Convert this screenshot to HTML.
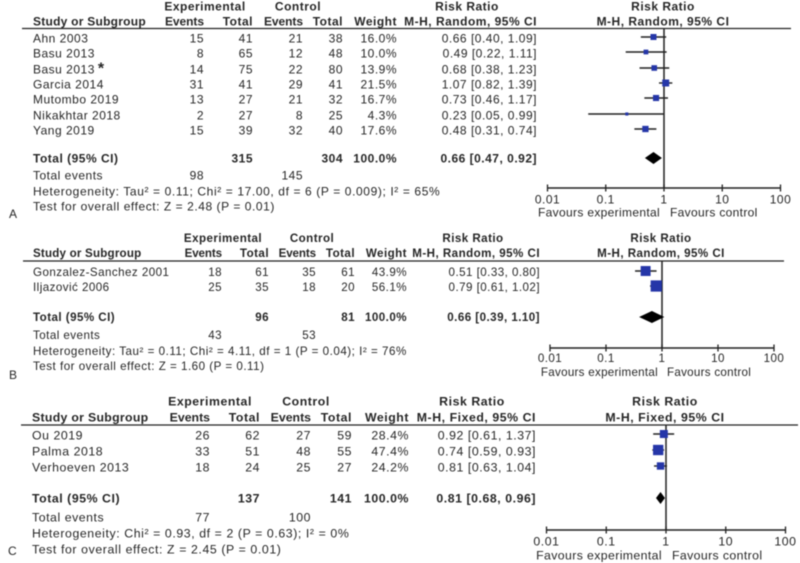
<!DOCTYPE html>
<html>
<head>
<meta charset="utf-8">
<style>
html,body{margin:0;padding:0;background:#fff;width:800px;height:563px;overflow:hidden}
svg{display:block;filter:blur(0.45px)}
text{font-family:"Liberation Sans",sans-serif;fill:#262626}
</style>
</head>
<body>
<svg id="chart" width="800" height="563" viewBox="0 0 800 563" xmlns="http://www.w3.org/2000/svg"></svg>
<script>
// Panel A data
const aStudies = ['Ahn 2003','Basu 2013','Basu 2013','Garcia 2014','Mutombo 2019','Nikakhtar 2018','Yang 2019'];
const aExpEvents = [15,8,14,31,13,2,15];
const aExpTotals = [41,65,75,41,27,27,39];
const aCtlEvents = [21,12,22,29,21,8,32];
const aCtlTotals = [38,48,80,41,32,25,40];
const aWeights = [16.0,10.0,13.9,21.5,16.7,4.3,17.6];
const aRatios = [0.66,0.49,0.68,1.07,0.73,0.23,0.48];
const aLows = [0.40,0.22,0.38,0.82,0.46,0.05,0.31];
const aHighs = [1.09,1.11,1.23,1.39,1.17,0.99,0.74];
const aSummary = [315,304,100.0,0.66,0.47,0.92];
const aEventTotals = [98,145];
// Panel B data
const bStudies = ['Gonzalez-Sanchez 2001','Iljazović 2006'];
const bExpEvents = [18,25];
const bExpTotals = [61,35];
const bCtlEvents = [35,18];
const bCtlTotals = [61,20];
const bWeights = [43.9,56.1];
const bRatios = [0.51,0.79];
const bLows = [0.33,0.61];
const bHighs = [0.80,1.02];
const bSummary = [96,81,100.0,0.66,0.39,1.10];
const bEventTotals = [43,53];
// Panel C data
const cStudies = ['Ou 2019','Palma 2018','Verhoeven 2013'];
const cExpEvents = [26,33,18];
const cExpTotals = [62,51,24];
const cCtlEvents = [27,48,25];
const cCtlTotals = [59,55,27];
const cWeights = [28.4,47.4,24.2];
const cRatios = [0.92,0.74,0.81];
const cLows = [0.61,0.59,0.63];
const cHighs = [1.37,0.93,1.04];
const cSummary = [137,141,100.0,0.81,0.68,0.96];
const cEventTotals = [77,100];
// Shared axis tick labels
const axisTicks = [0.01,0.1,1,10,100];
const tickLabels = ['0.01','0.1','1','10','100'];

const NS = 'http://www.w3.org/2000/svg';
const root = document.getElementById('chart');

function group(parent, name) {
  const el = document.createElementNS(NS, 'g');
  
  
  parent.appendChild(el);
  return el;
}
function label(parent, name, x, y, str, anchor, bold, size, spacing) {
  const el = document.createElementNS(NS, 'text');
  
  
  el.setAttribute('x', x);
  el.setAttribute('y', y);
  el.setAttribute('text-anchor', anchor || 'start');
  el.setAttribute('font-size', size);
  el.setAttribute('letter-spacing', spacing);
  if (bold) el.setAttribute('font-weight', 'bold');
  el.textContent = str;
  parent.appendChild(el);
  return el;
}
function line(parent, name, x1, y1, x2, y2, w, color) {
  const el = document.createElementNS(NS, 'line');
  
  
  el.setAttribute('x1', x1);
  el.setAttribute('y1', y1);
  el.setAttribute('x2', x2);
  el.setAttribute('y2', y2);
  el.setAttribute('stroke', color || '#222');
  el.setAttribute('stroke-width', w);
  parent.appendChild(el);
  return el;
}
function ci(r, l, h) { return r.toFixed(2) + ' [' + l.toFixed(2) + ', ' + h.toFixed(2) + ']'; }

function drawPanel(p) {
  const g = group(root, p.id + '-forest-plot');
  const fs = p.font, sp = p.spacing;
  const xScale = v => p.x1 + Math.log10(v) * p.decade;
  const tx = (gp, n, x, cy, s, a, b, sx) => label(gp, n, x, cy + fs * 0.36, s, a, b, fs, sx === undefined ? sp : sx);

  const head = group(g, 'table-header');
  tx(head, 'experimental-header', p.expC, p.h1, 'Experimental', 'middle', true);
  tx(head, 'control-header', p.ctlC, p.h1, 'Control', 'middle', true);
  tx(head, 'risk-ratio-header', p.rrC, p.h1, 'Risk Ratio', 'middle', true);
  tx(head, 'plot-risk-ratio-header', p.plotC, p.h1, 'Risk Ratio', 'middle', true);
  tx(head, 'study-header', p.study, p.h2, 'Study or Subgroup', 'start', true, sp - 0.25);
  tx(head, 'exp-events-header', p.c1, p.h2, 'Events', 'end', true, sp - 0.55);
  tx(head, 'exp-total-header', p.c2, p.h2, 'Total', 'end', true);
  tx(head, 'ctl-events-header', p.c3, p.h2, 'Events', 'end', true, sp - 0.55);
  tx(head, 'ctl-total-header', p.c4, p.h2, 'Total', 'end', true);
  tx(head, 'weight-header', p.c5, p.h2, 'Weight', 'end', true);
  tx(head, 'method-header', p.c6, p.h2, p.method, 'end', true);
  tx(head, 'plot-method-header', p.plotC, p.h2, p.method, 'middle', true);
  line(g, 'header-rule', p.ruleL, p.rule, p.ruleR, p.rule, 1.3);

  // no-effect line
  line(g, 'no-effect-line', xScale(1), p.rule, xScale(1), p.axisY, 1.5);

  // study rows
  p.studies.forEach((s, i) => {
    const row = group(g, 'study-row');
    const y = p.rows[i];
    const name = tx(row, 'study-name', p.study, y, s, 'start', false);
    if (p.starIndex === i) {
      const star = document.createElementNS(NS, 'tspan');
      
      
      star.setAttribute('font-size', '16');
      star.setAttribute('font-weight', 'bold');
      star.setAttribute('dx', '3');
      star.textContent = '*';
      name.appendChild(star);
    }
    tx(row, 'exp-events', p.c1, y, String(p.e1[i]), 'end');
    tx(row, 'exp-total', p.c2, y, String(p.t1[i]), 'end');
    tx(row, 'ctl-events', p.c3, y, String(p.e2[i]), 'end');
    tx(row, 'ctl-total', p.c4, y, String(p.t2[i]), 'end');
    tx(row, 'weight', p.c5, y, p.w[i].toFixed(1) + '%', 'end');
    tx(row, 'risk-ratio-ci', p.c6, y, ci(p.r[i], p.lo[i], p.hi[i]), 'end');

    const my = y - 1;
    line(row, 'ci-whisker', xScale(p.lo[i]), my, xScale(p.hi[i]), my, 1.4);
    const size = 1.5 * Math.sqrt(p.w[i]);
    const sq = document.createElementNS(NS, 'rect');
    
    
    sq.setAttribute('x', xScale(p.r[i]) - size / 2);
    sq.setAttribute('y', my - size / 2);
    sq.setAttribute('width', size);
    sq.setAttribute('height', size);
    sq.setAttribute('fill', '#2536a8');
    row.appendChild(sq);
  });

  // total row
  const tot = group(g, 'total-row');
  tx(tot, 'total-label', p.study, p.totalY, 'Total (95% CI)', 'start', true);
  tx(tot, 'total-exp', p.c2, p.totalY, String(p.sum[0]), 'end', true);
  tx(tot, 'total-ctl', p.c4, p.totalY, String(p.sum[1]), 'end', true);
  tx(tot, 'total-weight', p.c5, p.totalY, p.sum[2].toFixed(1) + '%', 'end', true);
  tx(tot, 'total-risk-ratio', p.c6, p.totalY, ci(p.sum[3], p.sum[4], p.sum[5]), 'end', true);
  const dia = document.createElementNS(NS, 'polygon');
  
  
  const dy = p.totalY, dh = p.diamondH;
  dia.setAttribute('points', [
    xScale(p.sum[4]) + ',' + dy,
    xScale(p.sum[3]) + ',' + (dy - dh),
    xScale(p.sum[5]) + ',' + dy,
    xScale(p.sum[3]) + ',' + (dy + dh)
  ].join(' '));
  dia.setAttribute('fill', '#000');
  tot.appendChild(dia);

  // footer
  const foot = group(g, 'footer-statistics');
  tx(foot, 'total-events-label', p.study, p.evY, 'Total events', 'start');
  tx(foot, 'total-events-exp', p.c1, p.evY, String(p.ev[0]), 'end');
  tx(foot, 'total-events-ctl', p.c3, p.evY, String(p.ev[1]), 'end');
  tx(foot, 'heterogeneity', p.study, p.hetY, p.het, 'start', false, p.hetSpacing);
  tx(foot, 'overall-effect', p.study, p.testY, p.test, 'start', false, sp + 0.05);

  // axis
  const ax = group(g, 'risk-ratio-axis');
  line(ax, 'axis-line', xScale(axisTicks[0]), p.axisY, xScale(axisTicks[axisTicks.length - 1]), p.axisY, 1.5);
  axisTicks.forEach((t, i) => {
    line(ax, 'axis-tick', xScale(t), p.axisY - 3.5, xScale(t), p.axisY + 3.5, 1.3);
    tx(ax, 'axis-tick-label', xScale(t), p.tickY, tickLabels[i], 'middle');
  });
  tx(ax, 'favours-experimental', p.favL, p.favY, 'Favours experimental', 'end', false, sp - 0.17);
  tx(ax, 'favours-control', p.favR, p.favY, 'Favours control', 'start', false, sp - 0.17);

  label(g, 'panel-label', p.tagX, p.tagY, p.tag, 'start', false, 12, 0);
}

drawPanel({
  id:'a', tag:'A', tagX:9, tagY:218, font:12, spacing:0.5, hetSpacing:0.61,
  studies:aStudies, e1:aExpEvents, t1:aExpTotals, e2:aCtlEvents, t2:aCtlTotals,
  w:aWeights, r:aRatios, lo:aLows, hi:aHighs, sum:aSummary, ev:aEventTotals, starIndex:2,
  method:'M-H, Random, 95% CI',
  het:'Heterogeneity: Tau² = 0.11; Chi² = 17.00, df = 6 (P = 0.009); I² = 65%',
  test:'Test for overall effect: Z = 2.48 (P = 0.01)',
  study:33, c1:204, c2:253, c3:303, c4:343, c5:397, c6:537,
  expC:205, ctlC:298, rrC:467, plotC:663,
  h1:6, h2:21, rule:28.5, ruleL:22, ruleR:791,
  rows:[38,53,69,84,99,115,130], totalY:158, evY:175, hetY:191, testY:206,
  x1:664, decade:58.25, axisY:188, tickY:199, favY:212, favL:660, favR:670, diamondH:6
});
drawPanel({
  id:'b', tag:'B', tagX:9, tagY:379, font:11.6, spacing:0.45, hetSpacing:0.52,
  studies:bStudies, e1:bExpEvents, t1:bExpTotals, e2:bCtlEvents, t2:bCtlTotals,
  w:bWeights, r:bRatios, lo:bLows, hi:bHighs, sum:bSummary, ev:bEventTotals,
  method:'M-H, Random, 95% CI',
  het:'Heterogeneity: Tau² = 0.11; Chi² = 4.11, df = 1 (P = 0.04); I² = 76%',
  test:'Test for overall effect: Z = 1.60 (P = 0.11)',
  study:33, c1:222, c2:269, c3:316, c4:355, c5:407, c6:540,
  expC:223, ctlC:312, rrC:473, plotC:661,
  h1:238, h2:253, rule:261, ruleL:23, ruleR:784,
  rows:[272,287], totalY:317, evY:335, hetY:351, testY:366,
  x1:662, decade:56, axisY:348, tickY:358, favY:372, favL:658, favR:667, diamondH:6
});
drawPanel({
  id:'c', tag:'C', tagX:8, tagY:555, font:12.3, spacing:0.55, hetSpacing:0.59,
  studies:cStudies, e1:cExpEvents, t1:cExpTotals, e2:cCtlEvents, t2:cCtlTotals,
  w:cWeights, r:cRatios, lo:cLows, hi:cHighs, sum:cSummary, ev:cEventTotals,
  method:'M-H, Fixed, 95% CI',
  het:'Heterogeneity: Chi² = 0.93, df = 2 (P = 0.63); I² = 0%',
  test:'Test for overall effect: Z = 2.45 (P = 0.01)',
  study:32, c1:210, c2:260, c3:311, c4:352, c5:409, c6:536,
  expC:210, ctlC:306, rrC:472, plotC:665,
  h1:401, h2:417, rule:425, ruleL:21, ruleR:798,
  rows:[435,451,467], totalY:498, evY:517, hetY:533, testY:549,
  x1:666, decade:59.75, axisY:530, tickY:541, favY:555, favL:662, favR:672, diamondH:6
});
</script>
</body>
</html>
